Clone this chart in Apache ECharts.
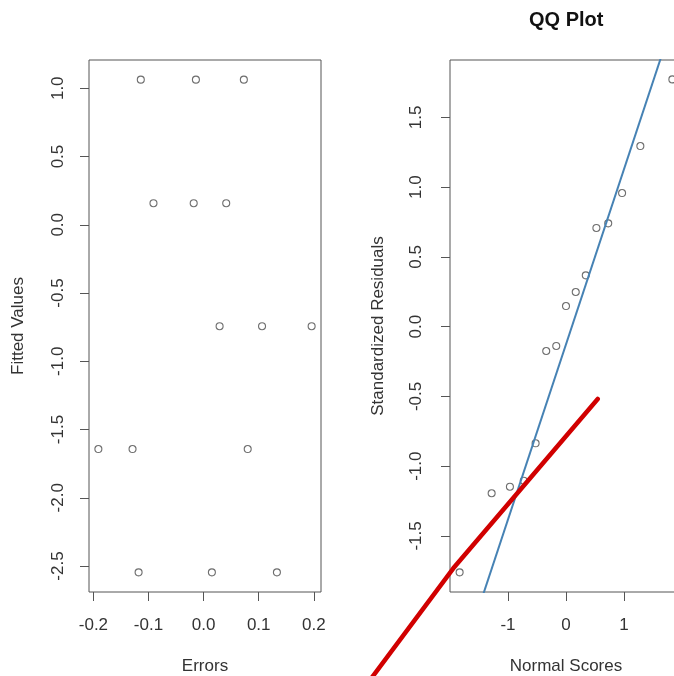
<!DOCTYPE html>
<html>
<head>
<meta charset="utf-8">
<script src="https://cdn.jsdelivr.net/npm/echarts@6/dist/echarts.min.js"></script>
<style>html,body{margin:0;padding:0;background:#fff;}#c{width:674px;height:676px;}</style>
</head>
<body>
<div id="c"></div>
<script>
// Left panel: Errors vs Fitted Values
const errors = [-0.114, -0.014, 0.073, -0.091, -0.018, 0.041, 0.029, 0.106, 0.196, -0.191, -0.129, 0.080, -0.118, 0.015, 0.133];
const fitted = [1.063, 1.063, 1.063, 0.158, 0.158, 0.158, -0.743, -0.743, -0.743, -1.643, -1.643, -1.643, -2.546, -2.546, -2.546];
const leftXTicks = [-0.2, -0.1, 0.0, 0.1, 0.2];
const leftYTicks = [-2.5, -2.0, -1.5, -1.0, -0.5, 0.0, 0.5, 1.0];

// Right panel: QQ plot
const normalScores = [-1.834, -1.282, -0.967, -0.728, -0.524, -0.341, -0.168, 0.000, 0.168, 0.341, 0.524, 0.728, 0.967, 1.282, 1.834];
const stdResiduals = [-1.761, -1.194, -1.147, -1.104, -0.836, -0.174, -0.138, 0.148, 0.249, 0.368, 0.708, 0.741, 0.958, 1.295, 1.773];
const rightXTicks = [-1, 0, 1];
const rightYTicks = [-1.5, -1.0, -0.5, 0.0, 0.5, 1.0, 1.5];
const qqLineX = [-2.0, 2.0];
const qqLineY = [-2.638, 2.385];
// red annotation line (in the QQ panel's data units, runs past the frame)
const redLineX = [0.547, -1.943, -3.379];
const redLineY = [-0.518, -1.732, -2.533];

const zip = (a, b) => a.map((v, i) => [v, b[i]]);
const txt = '#333';
const font = 'Liberation Sans, Arial, sans-serif';

function xAx(gi, min, max, ticks, name, fmt) {
  return {
    type: 'value', gridIndex: gi, min: min, max: max,
    name: name, nameLocation: 'middle', nameGap: 66,
    nameTextStyle: { color: txt, fontSize: 17, fontFamily: font },
    axisLine: { show: false, onZero: false },
    axisTick: { show: true, length: 9, customValues: ticks, lineStyle: { color: '#555', width: 1 } },
    axisLabel: { customValues: ticks, margin: 25, color: txt, fontSize: 17, fontFamily: font, formatter: fmt },
    splitLine: { show: false }
  };
}
function yAx(gi, min, max, ticks, name, margin, gap) {
  return {
    type: 'value', gridIndex: gi, min: min, max: max,
    name: name, nameLocation: 'middle', nameGap: gap,
    nameTextStyle: { color: txt, fontSize: 17, fontFamily: font },
    axisLine: { show: false, onZero: false },
    axisTick: { show: true, length: 9, customValues: ticks, lineStyle: { color: '#555', width: 1 } },
    axisLabel: { customValues: ticks, rotate: 90, margin: margin, color: txt, fontSize: 17, fontFamily: font, formatter: v => v.toFixed(1) },
    splitLine: { show: false }
  };
}
function hiddenAx(gi, min, max) {
  return { type: 'value', gridIndex: gi, min: min, max: max, show: false, axisLine: { onZero: false }, splitLine: { show: false } };
}

const chart = echarts.init(document.getElementById('c'), null, { renderer: 'canvas' });
const circle = { color: 'rgba(0,0,0,0)', borderColor: '#4a4a4a', borderWidth: 1.1 };
chart.setOption({
  animation: false,
  backgroundColor: '#fff',
  title: {
    text: 'QQ Plot', left: 524, top: 5,
    textStyle: { fontSize: 20, fontWeight: 'bold', color: '#111', fontFamily: font }
  },
  grid: [
    { left: 89, top: 60, width: 232, height: 532, show: true, borderColor: '#555', borderWidth: 1, backgroundColor: 'transparent', containLabel: false, outerBoundsMode: 'none' },
    { left: 450, top: 60, width: 232, height: 532, show: true, borderColor: '#555', borderWidth: 1, backgroundColor: 'transparent', containLabel: false, outerBoundsMode: 'none' },
    // same units as the QQ panel, stretched past the frame so the annotation can run outside it
    { left: 350, top: 60, width: 332, height: 640, show: false, containLabel: false, outerBoundsMode: 'none' }
  ],
  xAxis: [
    xAx(0, -0.208, 0.213, leftXTicks, 'Errors', v => v.toFixed(1)),
    xAx(1, -2.0, 2.0, rightXTicks, 'Normal Scores', v => v.toFixed(0)),
    hiddenAx(2, -3.724, 2.0)
  ],
  yAxis: [
    yAx(0, -2.690, 1.207, leftYTicks, 'Fitted Values', 22, 62),
    yAx(1, -1.902, 1.912, rightYTicks, 'Standardized Residuals', 25, 63),
    hiddenAx(2, -2.676, 1.912)
  ],
  series: [
    { type: 'scatter', xAxisIndex: 0, yAxisIndex: 0, data: zip(errors, fitted), symbol: 'circle', symbolSize: 7, itemStyle: circle, silent: true },
    { type: 'scatter', xAxisIndex: 1, yAxisIndex: 1, data: zip(normalScores, stdResiduals), symbol: 'circle', symbolSize: 7, itemStyle: circle, silent: true },
    { type: 'line', xAxisIndex: 1, yAxisIndex: 1, data: zip(qqLineX, qqLineY), symbol: 'none', lineStyle: { color: '#4682B4', width: 2 }, silent: true, z: 3 },
    { type: 'line', xAxisIndex: 2, yAxisIndex: 2, data: zip(redLineX, redLineY), symbol: 'none', clip: false, lineStyle: { color: '#d10000', width: 4.5, cap: 'round', join: 'round' }, silent: true, z: 10 }
  ]
});
</script>
</body>
</html>
